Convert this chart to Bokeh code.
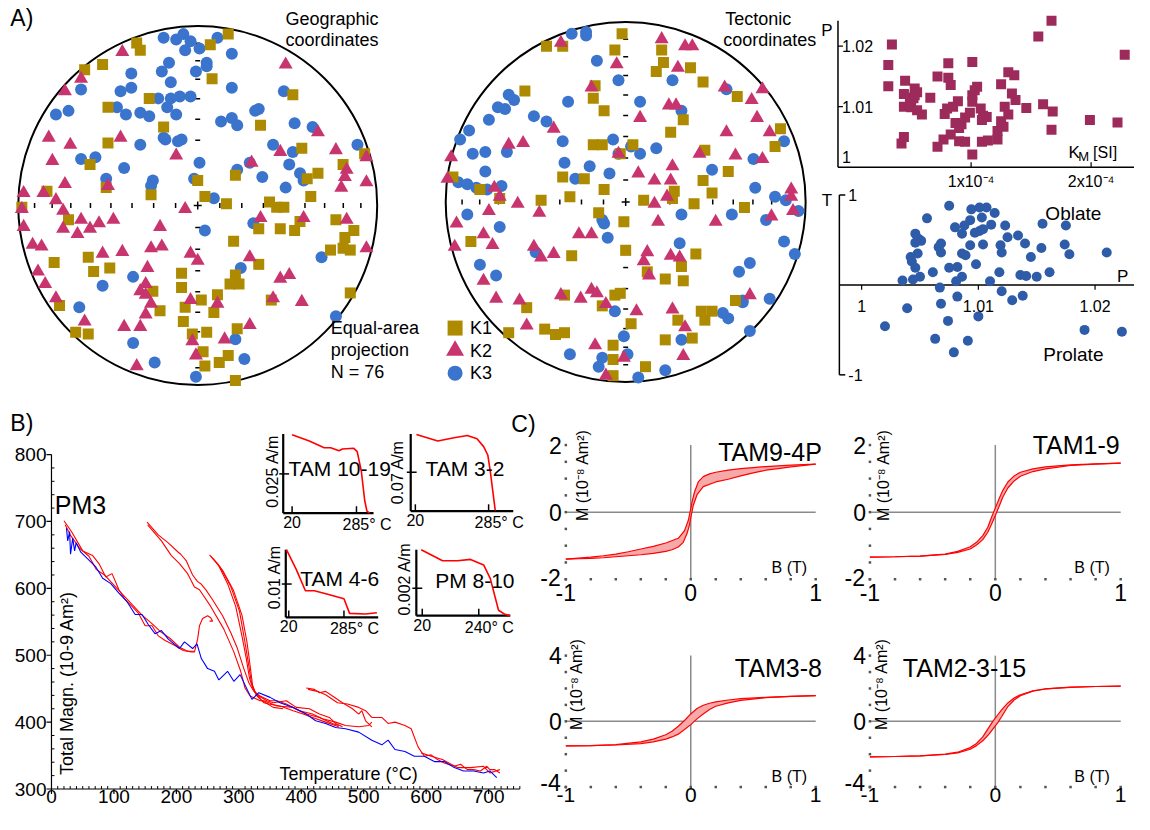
import math
from bokeh.plotting import figure
from bokeh.models import Range1d
from bokeh.embed import file_html
from bokeh.resources import INLINE
from bokeh.core.properties import value

# ============================ DATA ============================
# A) Equal-area stereonets, projected coordinates (net radius = 1)
GEO_K1 = [(-0.34,0.91),(-0.32,0.87),(0.17,0.96),(0.07,0.90),(-0.53,0.79),(-0.63,0.76),(0.08,0.71),(0.53,0.62),(-0.27,0.60),(-0.50,0.55),
          (-0.19,0.44),(0.35,0.45),(-0.50,0.35),(0.58,0.32),(0.93,0.29),(0.81,0.23),(-0.60,0.23),(0.21,0.17),(0.61,0.15),(0.67,0.18),
          (-0.84,0.08),(-0.51,0.10),(-0.26,0.06),(0.00,0.14),(0.04,0.05),(0.16,0.01),(0.63,0.05),(0.40,0.02),(0.44,-0.01),(0.48,-0.01),
          (-0.98,-0.01),(-0.72,-0.08),(0.34,-0.13),(0.46,-0.13),(0.54,-0.14),(0.57,-0.09),(0.77,-0.08),(0.87,-0.14),(0.82,-0.18),(0.81,-0.24),
          (0.85,-0.25),(0.74,-0.25),(0.20,-0.20),(-0.61,-0.29),(-0.80,-0.32),(-0.49,-0.35),(-0.58,-0.37),(0.34,-0.33),(-0.09,-0.38),(0.21,-0.39),
          (0.18,-0.44),(0.23,-0.44),(-0.09,-0.46),(-0.25,-0.48),(0.11,-0.50),(0.02,-0.53),(-0.07,-0.57),(-0.21,-0.59),(0.09,-0.60),(0.85,-0.49),
          (0.41,-0.53),(-0.77,-0.56),(-0.08,-0.65),(-0.68,-0.71),(-0.61,-0.72),(-0.03,-0.72),(0.05,-0.71),(0.22,-0.69),(0.03,-0.82),(0.17,-0.84),
          (0.04,-0.90),(0.12,-0.88),(0.21,-0.98)]
GEO_K2 = [(-0.42,0.86),(0.49,0.79),(-0.65,0.71),(-0.74,0.64),(-0.83,0.38),(-0.71,0.34),(-0.43,0.38),(0.67,0.41),(-0.81,0.25),(-0.12,0.28),
          (0.30,0.24),(0.46,0.30),(0.77,0.31),(0.94,0.27),(0.83,0.20),(0.82,0.16),(0.94,0.13),(0.80,0.10),(-0.74,0.12),(-0.50,0.11),
          (-0.97,0.07),(-0.86,0.07),(-0.79,0.03),(-0.07,-0.02),(-0.98,-0.02),(-0.75,-0.03),(-0.65,-0.08),(-0.55,-0.10),(-0.47,-0.08),(-0.60,-0.13),
          (-0.75,-0.13),(-0.67,-0.16),(-0.97,-0.12),(-0.21,-0.12),(0.35,-0.07),(0.59,-0.07),(0.83,-0.08),(-0.92,-0.22),(-0.87,-0.23),(-0.53,-0.27),
          (-0.42,-0.26),(-0.26,-0.24),(-0.20,-0.23),(-0.04,-0.27),(0.00,-0.31),(0.29,-0.29),(0.94,-0.24),(-0.89,-0.37),(-0.28,-0.35),(-0.85,-0.44),
          (-0.29,-0.44),(-0.32,-0.48),(-0.29,-0.50),(-0.26,-0.55),(-0.29,-0.61),(-0.79,-0.52),(-0.04,-0.53),(0.11,-0.55),(0.46,-0.41),(0.51,-0.39),
          (0.42,-0.52),(0.58,-0.54),(-0.63,-0.65),(-0.41,-0.68),(-0.32,-0.68),(-0.03,-0.76),(-0.01,-0.84),(0.15,-0.75),(0.29,-0.67),(-0.34,-0.90)]
GEO_K3 = [(-0.19,0.94),(-0.12,0.93),(-0.08,0.96),(-0.04,0.92),(0.01,0.88),(-0.07,0.87),(0.11,0.94),(0.19,0.85),(-0.16,0.80),(-0.20,0.75),
          (0.05,0.80),(0.05,0.78),(-0.01,0.75),(-0.37,0.74),(-0.37,0.66),(-0.15,0.69),(0.19,0.66),(0.48,0.64),(-0.65,0.65),(-0.43,0.64),
          (-0.22,0.60),(-0.15,0.60),(-0.10,0.61),(-0.04,0.61),(-0.17,0.55),(-0.12,0.51),(-0.45,0.55),(-0.40,0.51),(-0.32,0.52),(-0.27,0.50),
          (-0.72,0.53),(-0.79,0.51),(0.13,0.47),(0.19,0.49),(0.22,0.45),(0.32,0.53),(0.34,0.54),(0.54,0.46),(0.64,0.44),(-0.19,0.38),
          (-0.18,0.37),(-0.11,0.36),(-0.09,0.37),(-0.32,0.34),(0.42,0.34),(0.53,0.30),(0.89,0.34),(-0.65,0.26),(-0.57,0.27),(-0.41,0.21),
          (0.01,0.24),(0.29,0.24),(0.22,0.20),(0.51,0.23),(0.57,0.18),(0.36,0.16),(0.59,0.14),(-0.51,0.15),(-0.25,0.14),(-0.26,0.11),
          (-0.02,0.15),(0.49,0.10),(0.09,0.04),(0.31,-0.10),(0.04,-0.14),(0.69,-0.29),(0.24,-0.35),(-0.36,-0.40),(-0.53,-0.45),(-0.66,-0.57),
          (0.77,-0.62),(-0.36,-0.77),(0.21,-0.75),(0.26,-0.86),(-0.24,-0.88),(-0.01,-0.96)]
TEC_K1 = [(-0.02,0.94),(-0.44,0.87),(-0.35,0.87),(-0.06,0.85),(0.20,0.85),(0.21,0.78),(0.17,0.73),(0.36,0.75),(0.43,0.67),(-0.56,0.62),
          (-0.17,0.65),(-0.18,0.58),(-0.12,0.51),(0.62,0.59),(0.32,0.46),(0.25,0.39),(0.86,0.41),(0.83,0.31),(0.44,0.29),(-0.18,0.32),
          (-0.13,0.32),(-0.03,0.27),(0.04,0.32),(-0.35,0.14),(-0.23,0.13),(-0.12,0.07),(0.57,0.17),(0.43,0.12),(0.48,0.05),(0.27,0.06),
          (-0.96,0.14),(-0.81,0.07),(-0.70,0.02),(-0.47,0.01),(-0.31,0.03),(0.10,0.01),(0.38,-0.01),(0.66,-0.03),(0.26,0.02),(-0.15,-0.06),
          (-0.01,-0.11),(-0.86,-0.22),(-0.30,-0.30),(0.00,-0.27),(0.39,-0.29),(0.31,-0.36),(0.12,-0.39),(0.22,-0.43),(0.32,-0.44),(-0.34,-0.52),
          (-0.06,-0.52),(-0.03,-0.51),(-0.13,-0.58),(-0.55,-0.59),(0.61,-0.55),(0.42,-0.61),(0.48,-0.61),(0.44,-0.66),(0.29,-0.66),(0.03,-0.68),
          (-0.65,-0.73),(-0.45,-0.71),(-0.39,-0.74),(-0.34,-0.73),(0.22,-0.77),(0.37,-0.76),(-0.07,-0.80),(-0.07,-0.88),(0.11,-0.92),(-0.07,-0.97)]
TEC_K2 = [(-0.36,0.89),(0.20,0.91),(0.33,0.87),(0.37,0.87),(-0.05,0.77),(0.29,0.75),(-0.19,0.64),(0.55,0.64),(0.76,0.63),(0.70,0.57),
          (0.24,0.54),(0.28,0.54),(0.08,0.47),(-0.40,0.41),(0.73,0.47),(0.56,0.39),(0.80,0.39),(-0.57,0.33),(-0.65,0.32),(-0.04,0.27),
          (0.41,0.27),(0.61,0.26),(0.76,0.24),(-0.97,0.25),(-0.99,0.13),(0.26,0.20),(0.07,0.16),(0.16,0.12),(0.25,0.12),(-0.73,0.08),
          (-0.70,0.03),(0.23,0.03),(0.92,0.07),(0.92,0.03),(-0.60,-0.01),(0.16,-0.01),(-0.76,-0.05),(-0.48,-0.06),(-0.94,-0.12),(-0.79,-0.18),
          (-0.74,-0.24),(-0.95,-0.25),(-0.51,-0.25),(-0.47,-0.31),(-0.40,-0.29),(-0.26,-0.18),(-0.19,-0.18),(0.18,-0.11),(0.50,-0.11),(0.81,-0.08),
          (0.93,-0.05),(0.12,-0.28),(0.10,-0.33),(0.13,-0.41),(0.25,-0.30),(0.30,-0.31),(-0.79,-0.44),(-0.72,-0.54),(-0.59,-0.55),(-0.36,-0.52),
          (-0.25,-0.54),(-0.19,-0.49),(-0.16,-0.51),(-0.11,-0.57),(0.06,-0.61),(0.26,-0.60),(0.69,-0.52),(0.33,-0.70),(-0.55,-0.69),(-0.17,-0.80),
          (-0.01,-0.87),(0.32,-0.86),(-0.11,-0.97)]
TEC_K3 = [(-0.22,0.95),(-0.22,0.93),(-0.30,0.94),(-0.16,0.79),(-0.04,0.68),(0.26,0.68),(-0.65,0.60),(-0.62,0.57),(-0.71,0.53),(-0.67,0.52),
          (-0.76,0.46),(-0.87,0.40),(-0.92,0.35),(-0.51,0.48),(-0.44,0.45),(-0.32,0.56),(0.08,0.56),(0.31,0.51),(0.56,0.63),(-0.35,0.34),
          (-0.07,0.35),(0.03,0.31),(0.08,0.27),(0.17,0.30),(-0.04,0.27),(-0.85,0.27),(-0.78,0.28),(-0.66,0.28),(-0.34,0.22),(-0.20,0.20),
          (-0.78,0.17),(-0.28,0.13),(-0.09,0.16),(-0.93,0.11),(-0.88,0.10),(-0.83,0.08),(-0.77,0.07),(-0.69,0.09),(0.48,0.18),(0.71,0.24),
          (0.88,0.34),(0.72,0.08),(0.83,0.03),(0.89,0.01),(-0.88,-0.07),(-0.70,-0.14),(-0.13,-0.10),(-0.12,-0.12),(-0.10,-0.20),(0.31,-0.07),
          (0.59,-0.07),(0.78,-0.10),(0.96,-0.05),(0.30,-0.23),(0.88,-0.22),(0.94,-0.29),(-0.50,-0.28),(-0.81,-0.35),(-0.72,-0.41),(0.63,-0.39),
          (0.69,-0.34),(0.80,-0.54),(0.65,-0.55),(0.65,-0.56),(-0.06,-0.61),(0.54,-0.62),(0.57,-0.65),(0.69,-0.72),(0.31,-0.77),(-0.01,-0.75),
          (0.01,-0.85),(-0.31,-0.85),(-0.13,-0.87),(-0.15,-0.92),(0.07,-0.98),(0.22,-0.94)]
NET_TICK_PLUNGES = [10, 20, 30, 40, 50, 60, 70, 80]

# A) AMS parameters: bulk susceptibility (x1e-4 SI) vs P, and P vs T
KM_E4 = [0.34,0.31,0.31,0.45,0.44,0.53,0.49,0.52,0.44,0.50,0.55,0.59,0.66,0.72,0.81,0.81,0.83,0.78,0.80,0.85,
         0.89,0.87,0.92,0.90,0.95,0.99,1.01,1.01,1.03,1.05,1.01,1.08,1.10,1.13,1.09,0.42,0.44,0.72,0.77,0.83,
         0.90,0.95,1.01,1.09,1.14,1.22,1.22,1.25,1.27,1.28,1.31,1.31,1.36,1.25,1.34,1.37,1.46,1.56,1.67,1.60,
         1.68,1.67,1.99,2.22,2.28,0.55,0.53]
P_KM = [1.0203,1.0169,1.0134,1.0143,1.0121,1.0130,1.0115,1.0114,1.0100,1.0099,1.0094,1.0087,1.0115,1.0150,1.0172,1.0148,1.0136,1.0088,1.0097,1.0100,
        1.0109,1.0073,1.0071,1.0065,1.0082,1.0090,1.0174,1.0119,1.0127,1.0133,1.0108,1.0097,1.0085,1.0083,1.0078,1.0039,1.0050,1.0034,1.0046,1.0054,
        1.0043,1.0042,1.0021,1.0042,1.0044,1.0046,1.0060,1.0076,1.0067,1.0100,1.0087,1.0157,1.0152,1.0137,1.0122,1.0111,1.0098,1.0216,1.0242,1.0104,
        1.0092,1.0062,1.0078,1.0074,1.0186,1.0124,1.0119]
P_TP = [1.0075,1.0056,1.0080,1.0094,1.0101,1.0107,1.0114,1.0103,1.0093,1.0088,1.0086,1.0097,1.0101,1.0104,1.0111,1.0123,1.0125,1.0134,1.0140,1.0145,
        1.0154,1.0155,1.0175,1.0174,1.0178,1.0210,1.0046,1.0049,1.0046,1.0051,1.0048,1.0042,1.0043,1.0046,1.0050,1.0044,1.0035,1.0061,1.0066,1.0068,
        1.0068,1.0075,1.0082,1.0086,1.0089,1.0093,1.0098,1.0104,1.0086,1.0081,1.0110,1.0118,1.0119,1.0120,1.0136,1.0141,1.0150,1.0161,1.0067,1.0068,
        1.0082,1.0039,1.0020,1.0074,1.0100,1.0063,1.0091,1.0079,1.0120,1.0129,1.0138,1.0191,1.0223]
T_TP = [0.88,0.74,0.64,0.84,0.86,0.86,0.80,0.75,0.72,0.66,0.57,0.58,0.60,0.62,0.67,0.66,0.53,0.55,0.46,0.31,
        0.41,0.68,0.66,0.45,0.34,0.36,0.57,0.51,0.47,0.49,0.35,0.31,0.26,0.19,0.09,0.06,0.05,0.14,0.42,0.46,
        0.36,0.19,0.20,0.35,0.33,0.44,0.23,0.45,0.09,0.04,0.04,0.14,0.44,0.36,0.11,0.10,0.09,0.14,-0.03,-0.21,
        -0.13,-0.26,-0.46,-0.40,-0.35,-0.60,-0.62,-0.75,-0.07,-0.17,-0.12,-0.50,-0.52]
KM_TICKS = [1, 2]
KM_TICK_LABELS = ["1x10⁻⁴", "2x10⁻⁴"]
PKM_TICKS = [1.01, 1.02]
PTP_TICKS = [1.00, 1.01, 1.02]
PTP_TICK_LABELS = ["1", "1.01", "1.02"]

# B) Thermomagnetic curve PM3: total magnetisation (1e-9 Am2) vs temperature (deg C)
B_RED = [
    ([20,32,50,66,76,87,97,108,118,129,139,150,161,171,182,197,211,224,229,234,237,242,250,255,258,253],
     [701,685,656,649,637,617,622,598,583,573,563,544,544,529,522,515,507,505,505,524,544,555,559,556,551,551]),
    ([22,30,45,60,72,85,100,115,130,145,160,175,190,205,218,228],
     [695,680,660,648,628,620,605,590,575,560,548,535,525,512,506,506]),
    ([153,171,187,203,207,216,226,234,239,247,258,274,287,297,308,316,324,334,350,361,376,397,418,434,455,471,492,508,513],
     [699,680,668,654,651,641,620,610,607,598,583,559,534,512,480,459,446,439,432,432,427,417,412,405,400,395,393,395,400]),
    ([154,176,192,205,218,229,237,255,276,292,303,310,318,334,340,361,387,408,429,450,460],
     [695,671,649,637,622,602,598,573,539,505,476,451,439,432,432,424,422,412,407,398,395]),
    ([253,266,282,295,305,312,317,323,332,345,355,376,392,413,429,445,455,466],
     [650,637,607,573,529,495,466,449,439,432,429,432,422,420,412,407,398,393]),
    ([258,274,291,305,313,318,322,328,340,348,366,387,403,418,439,460],
     [645,627,598,560,520,485,455,440,429,427,424,417,412,407,400,393]),
    ([255,270,287,301,309,315,320,326,336,355,371],
     [648,632,603,566,524,490,460,444,433,422,420]),
    ([408,421,429,439,450,466,482,492,497,503,513],
     [451,449,444,446,439,429,420,412,417,402,393]),
    ([411,426,439,458,474,492,503,513,529,539,550,566,576,587,597,608,618,629,645,655,666,676,687,697,702,710,718],
     [449,446,441,429,427,422,417,407,407,398,400,395,390,363,349,351,344,339,334,337,329,329,327,334,329,329,324]),
    ([592,608,626,650,671,692,702,718],
     [354,349,344,332,332,334,324,329]),
]
B_BLUE_T = [24,26,29,30.5,34,37,39.5,47,58,71,82,95,108,121,134,145,155,166,176,187,205,213,226,233,240,250,261,268,282,292,
            302,321,332,350,366,387,408,423,439,455,471,492,513,529,539,550,566,581,597,613,629,645,660,676,692,702,713]
B_BLUE_M = [690,671,685,651,675,656,668,654,644,632,615,607,593,580,561,561,546,532,537,524,510,520,510,517,495,480,476,463,476,461,
            471,434,444,437,429,422,412,402,398,392,390,385,373,366,373,359,356,349,349,341,341,332,327,327,324,327,317]
B_XTICKS = [0, 100, 200, 300, 400, 500, 600, 700]
B_YTICKS = [300, 400, 500, 600, 700, 800]

# B) insets: NRM (A/m) vs temperature
INS1_T = [20, 91, 152, 179, 213, 227, 274, 288, 305, 319, 328, 339]
INS1_M = [0.0500, 0.0459, 0.0417, 0.0417, 0.0398, 0.0409, 0.0413, 0.0392, 0.0267, 0.0079, 0.0013, 0.0]
INS2_T = [24, 101, 160, 208, 243, 267, 282, 291, 300, 309]
INS2_M = [0.138, 0.126, 0.132, 0.136, 0.130, 0.116, 0.101, 0.072, 0.0365, 0.0012]
INS3_T = [9, 56, 100, 143, 198, 285, 312, 388, 443]
INS3_M = [0.0203, 0.0144, 0.0080, 0.0080, 0.0071, 0.0056, 0.0012, 0.0010, 0.0014]
INS4_T = [16, 99, 157, 208, 259, 285, 317, 342, 362]
INS4_M = [0.0048, 0.0040, 0.0040, 0.0041, 0.0037, 0.0027, 0.0004, 0.0001, 0.0000]

# C) Hysteresis loops, M (1e-8 Am2) vs B (T); descending and ascending branches
TAM94P_DESC_B = [1, 0.8, 0.7, 0.6, 0.5, 0.4, 0.3, 0.2, 0.15, 0.1, 0.06, 0.03, 0.01, 0, -0.02, -0.05, -0.1, -0.2, -0.3, -0.4, -0.5, -0.6, -0.7, -0.8, -0.9, -1]
TAM94P_DESC_M = [1.43, 1.40, 1.38, 1.36, 1.33, 1.30, 1.25, 1.19, 1.14, 1.06, 0.90, 0.60, 0.30, 0.10, -0.25, -0.55, -0.78, -0.92, -1.02, -1.10, -1.18, -1.25, -1.30, -1.34, -1.37, -1.40]
TAM94P_ASC_B = [-1, -0.9, -0.8, -0.7, -0.6, -0.5, -0.4, -0.3, -0.2, -0.15, -0.1, -0.06, -0.03, -0.01, 0, 0.02, 0.05, 0.1, 0.2, 0.3, 0.4, 0.5, 0.6, 0.7, 0.8, 1]
TAM94P_ASC_M = [-1.40, -1.39, -1.38, -1.36, -1.33, -1.30, -1.27, -1.23, -1.17, -1.12, -1.04, -0.90, -0.64, -0.38, -0.16, 0.20, 0.52, 0.76, 0.90, 0.98, 1.08, 1.17, 1.25, 1.30, 1.35, 1.43]
TAM19_DESC_B = [1, 0.8, 0.6, 0.4, 0.3, 0.2, 0.15, 0.1, 0.06, 0.03, 0, -0.03, -0.06, -0.1, -0.15, -0.2, -0.3, -0.4, -0.6, -0.8, -1]
TAM19_DESC_M = [1.46, 1.44, 1.41, 1.35, 1.29, 1.19, 1.08, 0.90, 0.65, 0.40, 0.12, -0.15, -0.45, -0.70, -0.90, -1.03, -1.17, -1.25, -1.31, -1.33, -1.34]
TAM19_ASC_B = [-1, -0.8, -0.6, -0.4, -0.3, -0.2, -0.15, -0.1, -0.06, -0.03, 0, 0.03, 0.06, 0.1, 0.15, 0.2, 0.3, 0.4, 0.6, 0.8, 1]
TAM19_ASC_M = [-1.34, -1.33, -1.31, -1.26, -1.20, -1.10, -0.98, -0.82, -0.60, -0.36, -0.10, 0.17, 0.45, 0.72, 0.93, 1.07, 1.21, 1.29, 1.39, 1.43, 1.46]
TAM38_DESC_B = [1, 0.8, 0.6, 0.4, 0.3, 0.2, 0.15, 0.1, 0.05, 0, -0.05, -0.1, -0.15, -0.2, -0.3, -0.4, -0.6, -0.8, -1]
TAM38_DESC_M = [1.56, 1.52, 1.46, 1.38, 1.30, 1.18, 1.10, 0.98, 0.78, 0.45, 0.05, -0.30, -0.60, -0.82, -1.08, -1.25, -1.42, -1.48, -1.50]
TAM38_ASC_B = [-1, -0.8, -0.6, -0.4, -0.3, -0.2, -0.15, -0.1, -0.05, 0, 0.05, 0.1, 0.15, 0.2, 0.3, 0.4, 0.6, 0.8, 1]
TAM38_ASC_M = [-1.50, -1.48, -1.44, -1.36, -1.25, -1.08, -0.95, -0.78, -0.50, -0.20, 0.15, 0.45, 0.72, 0.92, 1.12, 1.28, 1.44, 1.52, 1.56]
TAM2315_DESC_B = [1, 0.8, 0.6, 0.4, 0.3, 0.2, 0.15, 0.1, 0.05, 0.02, 0, -0.02, -0.05, -0.1, -0.15, -0.2, -0.3, -0.4, -0.6, -0.8, -1]
TAM2315_DESC_M = [2.14, 2.12, 2.08, 1.98, 1.86, 1.62, 1.42, 1.12, 0.70, 0.40, 0.20, 0.00, -0.35, -0.95, -1.35, -1.60, -1.88, -2.00, -2.10, -2.14, -2.16]
TAM2315_ASC_B = [-1, -0.8, -0.6, -0.4, -0.3, -0.2, -0.15, -0.1, -0.05, -0.02, 0, 0.02, 0.05, 0.1, 0.15, 0.2, 0.3, 0.4, 0.6, 0.8, 1]
TAM2315_ASC_M = [-2.16, -2.14, -2.10, -2.02, -1.92, -1.70, -1.48, -1.18, -0.78, -0.48, -0.28, -0.08, 0.28, 0.90, 1.30, 1.56, 1.84, 1.97, 2.07, 2.12, 2.14]
C_XTICKS = [-1, 0, 1]

# ============================ STYLE ============================
FONT = value("Liberation Sans")
K1C, K2C, K3C = "#AD8A00", "#C8356E", "#3A74CC"
KM_C, TP_C = "#9C2A5A", "#2E5CA8"
RED, BLUE = "#FF0000", "#0000FF"
LOOP_FILL = "#F6A9A9"
GREY = "#8A8A8A"

# One frame whose default ranges are the layout's coordinates (0..1150 x 0..830);
# every panel gets its own linear ranges so that its data is mapped by Bokeh's scales.
CX0, CX1, CY_BOT, CY_TOP = 0.0, 1150.0, 830.0, 0.0
p = figure(width=1134, height=814, x_range=Range1d(CX0, CX1), y_range=Range1d(CY_BOT, CY_TOP),
           x_axis_type=None, y_axis_type=None, toolbar_location=None, output_backend="svg",
           min_border=0, outline_line_color=None)
p.background_fill_color = "white"
p.border_fill_color = "white"


class Panel:
    def __init__(self, name, xpx, xdat, ypx, ydat):
        self.xp0, self.xd0 = xpx[0], xdat[0]
        self.yp0, self.yd0 = ypx[0], ydat[0]
        self.sx = (xdat[1] - xdat[0]) / (xpx[1] - xpx[0])
        self.sy = (ydat[1] - ydat[0]) / (ypx[1] - ypx[0])
        p.extra_x_ranges[name] = Range1d(start=self.x_at(CX0), end=self.x_at(CX1))
        p.extra_y_ranges[name] = Range1d(start=self.y_at(CY_BOT), end=self.y_at(CY_TOP))
        self.kw = dict(x_range_name=name, y_range_name=name)

    def x_at(self, px):
        return self.xd0 + (px - self.xp0) * self.sx

    def y_at(self, px):
        return self.yd0 + (px - self.yp0) * self.sy

    def dx(self, n):
        return n * self.sx

    def dy(self, n):
        return -n * self.sy


def label(x, y, s, size, align="left", baseline="middle", angle=0.0, xo=0, yo=0, color="black", panel=None):
    kw = panel.kw if panel is not None else {}
    p.text(x=[x], y=[y], text=[s], text_font=FONT, text_font_size=f"{size}px", text_align=align,
           text_baseline=baseline, angle=angle, x_offset=xo, y_offset=yo, text_color=color, **kw)


def segs(P, x0, y0, x1, y1, color="black", width=1.0):
    p.segment(x0=list(x0), y0=list(y0), x1=list(x1), y1=list(y1), line_color=color, line_width=width, **P.kw)


# ============================ A) STEREONETS ============================
def stereonet(name, cx, cy, R, k1, k2, k3):
    P = Panel(name, (cx, cx + R), (0, 1), (cy, cy - R), (0, 1))
    p.circle(x=[0], y=[0], radius=1, fill_color=None, line_color="black", line_width=2, **P.kw)
    rr = [math.sqrt(2) * math.sin(math.radians(90 - pl) / 2) for pl in NET_TICK_PLUNGES]
    rr = rr + [-r for r in rr]
    n = len(rr)
    h, w = P.dy(2.5), P.dx(2.5)
    segs(P, rr, [-h] * n, rr, [h] * n, width=1.5)
    segs(P, [-w] * n, rr, [w] * n, rr, width=1.5)
    p.scatter([0], [0], marker="cross", size=8, line_color="black", line_width=1.5, **P.kw)
    x, y = zip(*k3)
    p.scatter(list(x), list(y), marker="circle", size=12, fill_color=K3C, line_color=None, **P.kw)
    x, y = zip(*k1)
    p.scatter(list(x), list(y), marker="square", size=11, fill_color=K1C, line_color=None, **P.kw)
    x, y = zip(*k2)
    p.scatter(list(x), list(y), marker="triangle", size=14, fill_color=K2C, line_color=None, **P.kw)


stereonet("geo", 200.0, 209.0, 182.0, GEO_K1, GEO_K2, GEO_K3)
stereonet("tec", 634.0, 205.5, 182.5, TEC_K1, TEC_K2, TEC_K3)

label(10, 18, "A)", 23)
label(289, 19, "Geographic", 18)
label(289, 40, "coordinates", 18)
label(735, 19, "Tectonic", 18)
label(733, 40, "coordinates", 18)
label(335, 334, "Equal-area", 18)
label(335, 356, "projection", 18)
label(335, 379, "N = 76", 18)
# legend
p.scatter([461], [334], marker="square", size=15, fill_color=K1C, line_color=None)
p.scatter([461], [357], marker="triangle", size=18, fill_color=K2C, line_color=None)
p.scatter([461], [380], marker="circle", size=15, fill_color=K3C, line_color=None)
label(476, 334, "K1", 18)
label(476, 357, "K2", 18)
label(476, 380, "K3", 18)

# ============================ A) Km vs P ============================
PK = Panel("kmp", (862.6, 984.3), (0, 1), (170.0, 108.3), (1.00, 1.01))
kx0, ky0 = PK.x_at(849.3), 1.00
segs(PK, [kx0, kx0], [ky0, ky0], [PK.x_at(1150), kx0], [ky0, PK.y_at(20.7)], width=1.5)
segs(PK, [kx0] * 2, PKM_TICKS, [kx0 + PK.dx(5)] * 2, PKM_TICKS, width=1.2)
segs(PK, KM_TICKS, [ky0] * 2, KM_TICKS, [ky0 + PK.dy(5)] * 2, width=1.2)
p.scatter(KM_E4, P_KM, marker="square", size=10, fill_color=KM_C, line_color=None, **PK.kw)
for v in PKM_TICKS:
    label(kx0, v, f"{v:.2f}", 16, xo=4, panel=PK)
label(kx0, ky0, "1", 16, xo=4, yo=-10, panel=PK)
for v, s in zip(KM_TICKS, KM_TICK_LABELS):
    label(v, ky0, s, 16, align="center", baseline="top", yo=6, panel=PK)
label(838, 31, "P", 17, align="center")
label(1083, 155, "K", 17)
label(1093, 159, "M", 13)
label(1108, 155, "[SI]", 16)

# ============================ A) P vs T ============================
PT = Panel("tp", (873.3, 1110.0), (1.00, 1.02), (290.0, 198.3), (0, 1))
tx0 = PT.x_at(850.7)
segs(PT, [tx0, tx0], [0, -1], [PT.x_at(1150), tx0], [0, 1], width=1.5)
segs(PT, [tx0, tx0], [1, -1], [tx0 + PT.dx(6)] * 2, [1, -1], width=1.5)
segs(PT, PTP_TICKS, [0] * 3, PTP_TICKS, [PT.dy(-5)] * 3, width=1.2)
p.scatter(P_TP, T_TP, marker="circle", size=10, fill_color=TP_C, line_color=None, **PT.kw)
for v, s in zip(PTP_TICKS, PTP_TICK_LABELS):
    label(v, 0, s, 16, align="center", baseline="top", yo=15, panel=PT)
label(tx0, 1, "1", 16, xo=9, panel=PT)
label(tx0, -1, "-1", 16, xo=9, panel=PT)
label(838, 204, "T", 17, align="center")
label(1138, 281, "P", 17, align="center")
label(1088, 217, "Oblate", 19, align="center")
label(1088, 361, "Prolate", 19, align="center")

# ============================ B) THERMOMAGNETIC ============================
label(10, 431, "B)", 23)
PB = Panel("tm", (51.7, 495.0), (0, 700), (804.0, 463.0), (300, 800))
segs(PB, [0, 0], [300, 300], [750, 0], [300, 800], width=1.2)
xmaj = B_XTICKS
xmin = [t for t in range(0, 751, 10) if t % 100]
segs(PB, xmaj, [300] * len(xmaj), xmaj, [300 - PB.dy(5)] * len(xmaj), width=1.2)
segs(PB, xmin, [300] * len(xmin), xmin, [300 + PB.dy(3)] * len(xmin), width=1.0)
ymin = [v for v in range(300, 801, 20) if v % 100]
segs(PB, [0] * len(B_YTICKS), B_YTICKS, [-PB.dx(5)] * len(B_YTICKS), B_YTICKS, width=1.2)
segs(PB, [0] * len(ymin), ymin, [PB.dx(3)] * len(ymin), ymin, width=1.0)
for t in B_XTICKS:
    label(t, 300, str(t), 19, align="center", baseline="top", yo=1, panel=PB)
for v in B_YTICKS:
    label(0, v, str(v), 19, align="right", xo=-5, panel=PB)
for T, M in B_RED:
    p.line(T, M, line_color=RED, line_width=1.1, **PB.kw)
p.line(B_BLUE_T, B_BLUE_M, line_color=BLUE, line_width=1.1, **PB.kw)
label(55, 514, "PM3", 25)
label(67, 696, "Total Magn. (10-9 Am²)", 18, align="center", angle=math.pi / 2)
label(353, 789, "Temperature (°C)", 18, align="center")


def inset(name, xmap, ymap, box, T, M, xticks, xlabels, ytick, ylab, ylab_xy, title, title_xy):
    P = Panel(name, (xmap[0], xmap[2]), (xmap[1], xmap[3]), (ymap[0], ymap[2]), (ymap[1], ymap[3]))
    left, right, bottom, top = box
    xl, xr, yb, yt = P.x_at(left), P.x_at(right), P.y_at(bottom), P.y_at(top)
    segs(P, [xl, xl], [yb, yb], [xr, xl], [yb, yt], width=2.2)
    segs(P, xticks, [yb] * len(xticks), xticks, [yb + P.dy(7)] * len(xticks), width=1.5)
    segs(P, [xl - P.dx(4)], [ytick], [xl + P.dx(6)], [ytick], width=1.5)
    p.line(T, M, line_color=RED, line_width=1.6, **P.kw)
    for t, s in zip(xticks, xlabels):
        if "°" in s:
            label(t, yb, s, 16, align="left", baseline="top", xo=-14, yo=3, panel=P)
        else:
            label(t, yb, s, 16, align="center", baseline="top", yo=3, panel=P)
    label(ylab_xy[0], ylab_xy[1], ylab, 16, align="center", angle=math.pi / 2)
    label(title_xy[0], title_xy[1], title, 21, align="center")


inset("i1", (295.7, 20, 361.0, 285), (522.7, 0, 482.7, 0.025), (286.7, 378.3, 522.7, 442.0),
      INS1_T, INS1_M, [20, 285], ["20", "285° C"], 0.025, "0.025 A/m", (276, 480), "TAM 10-19", (344, 477))
inset("i2", (420.7, 20, 495.0, 285), (520.7, 0, 481.0, 0.07), (416.0, 520.0, 520.7, 442.0),
      INS2_T, INS2_M, [20, 285], ["20", "285° C"], 0.07, "0.07 A/m", (403, 481), "TAM 3-2", (471, 477))
inset("i3", (292.3, 20, 348.3, 285), (629.0, 0, 595.0, 0.01), (289.3, 383.0, 629.0, 560.0),
      INS3_T, INS3_M, [20, 285], ["20", "285° C"], 0.01, "0.01 A/m", (278, 588), "TAM 4-6", (344, 589))
inset("i4", (427.7, 20, 485.0, 240), (627.3, 0, 599.3, 0.002), (421.7, 517.0, 627.3, 560.0),
      INS4_T, INS4_M, [20, 240], ["20", "240° C"], 0.002, "0.002 A/m", (410, 590), "PM 8-10", (481, 591))

# ============================ C) HYSTERESIS ============================
label(518, 432, "C)", 23)


def hyst(name, xpx, ypx, ymax, db, dm, ab, am, title, title_xy, mlab_xy, blab_xy, xlab_size, xlab_off, ymin_off):
    P = Panel(name, xpx, (-1, 1), ypx, (0, ymax))
    segs(P, [-1, 0], [0, -ymax], [1, 0], [0, ymax], color=GREY, width=1.5)
    ly = [ymax * k / 4 for k in range(-4, 5)]
    p.scatter([-1] * len(ly), ly, marker="square", size=2.5, fill_color="#555555", line_color=None, **P.kw)
    bx = [k / 5 for k in range(-5, 6)]
    p.scatter(bx, [-ymax] * len(bx), marker="square", size=2.5, fill_color="#555555", line_color=None, **P.kw)
    p.patch(db + ab, dm + am, fill_color=LOOP_FILL, line_color=None, **P.kw)
    p.line(db, dm, line_color=RED, line_width=1.2, **P.kw)
    p.line(ab, am, line_color=RED, line_width=1.2, **P.kw)
    for t in C_XTICKS:
        label(t, -ymax, str(t), xlab_size, align="center", baseline="top", yo=xlab_off, panel=P)
    label(-1, ymax, str(ymax), 23, align="right", xo=-4, panel=P)
    label(-1, 0, "0", 23, align="right", xo=-4, panel=P)
    label(-1, -ymax, str(-ymax), 23, align="right", xo=-5, yo=ymin_off, panel=P)
    label(title_xy[0], title_xy[1], title, 25, align="right")
    label(mlab_xy[0], mlab_xy[1], "M (10⁻⁸ Am²)", 16, align="center", angle=math.pi / 2)
    label(blab_xy[0], blab_xy[1], "B (T)", 16, align="center")


hyst("c1", (573.3, 826.7), (521.7, 453.3), 2, TAM94P_DESC_B, TAM94P_DESC_M, TAM94P_ASC_B, TAM94P_ASC_M,
     "TAM9-4P", (833, 460), (590, 484), (800, 578), 23, 5, -2)
hyst("c2", (881.7, 1136.0), (521.7, 453.3), 2, TAM19_DESC_B, TAM19_DESC_M, TAM19_ASC_B, TAM19_ASC_M,
     "TAM1-9", (1135, 453), (895, 484), (1107, 578), 23, 5, -2)
hyst("c3", (573.3, 826.7), (735.0, 668.0), 4, TAM38_DESC_B, TAM38_DESC_M, TAM38_ASC_B, TAM38_ASC_M,
     "TAM3-8", (833, 681), (584, 697), (800, 791), 21, 1, -5)
hyst("c4", (881.7, 1136.0), (735.0, 668.0), 4, TAM2315_DESC_B, TAM2315_DESC_M, TAM2315_ASC_B, TAM2315_ASC_M,
     "TAM2-3-15", (1040, 681), (893, 697), (1107, 791), 21, 1, -5)

open("out.html", "w").write(file_html(p, INLINE))
